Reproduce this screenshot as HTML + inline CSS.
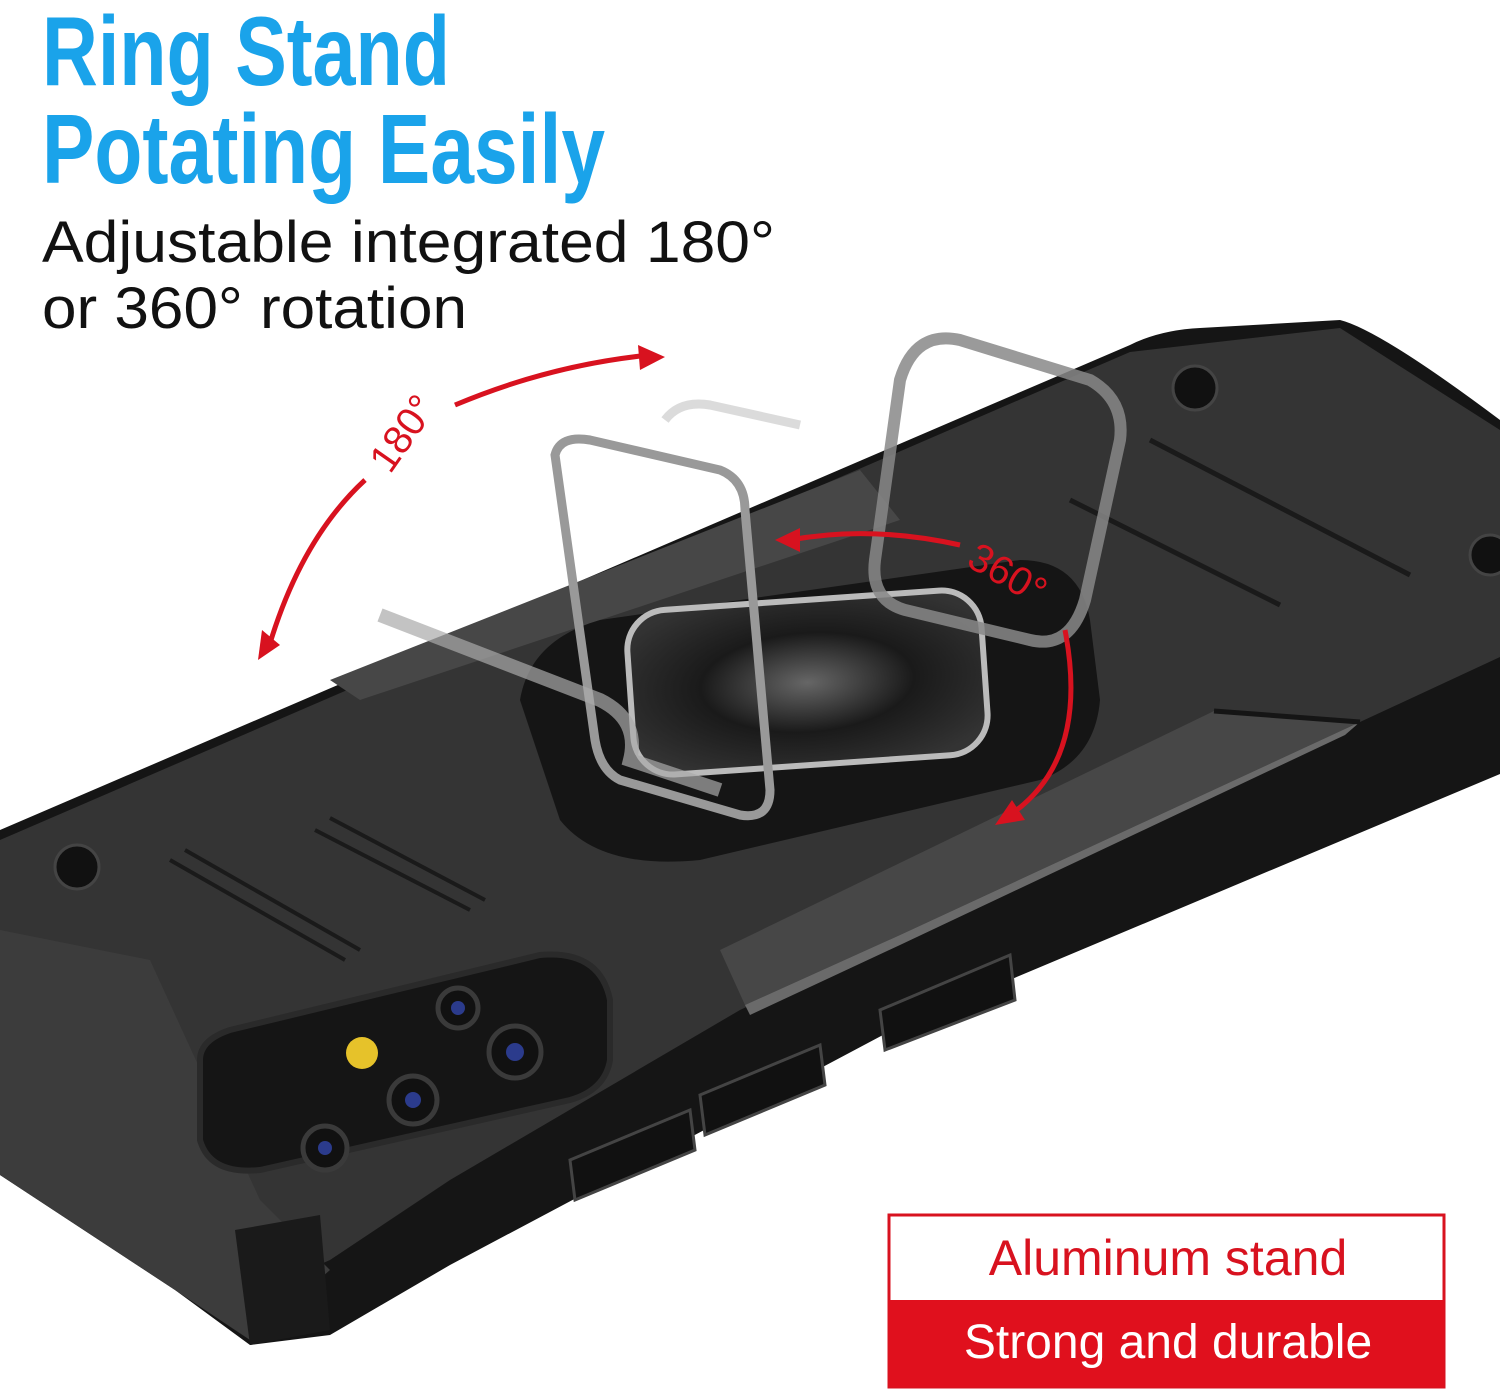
<!DOCTYPE html>
<html><head><meta charset="utf-8"><style>
html,body{margin:0;padding:0;background:#fff;}
svg{display:block}
</style></head><body>
<svg width="1500" height="1399" viewBox="0 0 1500 1399" xmlns="http://www.w3.org/2000/svg">
<defs>
<radialGradient id="disc" cx="50%" cy="50%" r="60%">
<stop offset="0" stop-color="#666"/><stop offset="0.5" stop-color="#1a1a1a"/><stop offset="1" stop-color="#333"/>
</radialGradient>
</defs>
<rect width="1500" height="1399" fill="#fff"/>
<!-- phone body (side) -->
<path d="M0 830 L1130 345 Q1160 330 1200 328 L1340 320 Q1380 330 1500 420 L1500 774 L900 1026 L450 1265 L330 1335 L250 1345 L175 1290 L0 1175 Z" fill="#151515"/>
<!-- main face -->
<path d="M0 840 L1130 352 L1340 328 L1500 430 L1500 657 L1360 722 L900 935 L740 1010 L450 1180 L330 1260 L240 1300 L0 1150 Z" fill="#343434"/>
<!-- left bumper -->
<path d="M0 930 L150 960 L260 1200 L330 1270 L250 1340 L175 1290 L0 1175 Z" fill="#3c3c3c"/>
<path d="M235 1230 L320 1215 L330 1330 L250 1345 Z" fill="#1a1a1a"/>
<!-- textured strips -->
<path d="M720 950 L1214 711 L1360 722 L900 935 L745 1005 Z" fill="#474747"/>
<path d="M745 1005 L900 935 L1360 722 L1345 735 L900 945 L750 1015 Z" fill="#6a6a6a"/>
<path d="M1214 711 L1360 722" stroke="#151515" stroke-width="5"/>
<path d="M330 680 L860 470 L900 520 L360 700 Z" fill="#474747"/>
<!-- side buttons -->
<path d="M880 1010 L1010 955 L1015 1000 L885 1050 Z" fill="#111" stroke="#444" stroke-width="3"/>
<path d="M700 1095 L820 1045 L825 1085 L705 1135 Z" fill="#111" stroke="#444" stroke-width="3"/>
<path d="M570 1160 L690 1110 L695 1150 L575 1200 Z" fill="#111" stroke="#444" stroke-width="3"/>
<!-- grooves -->
<path d="M170 860 L345 960 M185 850 L360 950 M315 830 L470 910 M330 818 L485 900" stroke="#1a1a1a" stroke-width="4"/>
<path d="M1070 500 L1280 605 M1150 440 L1410 575" stroke="#1a1a1a" stroke-width="5"/>
<!-- screws -->
<circle cx="77" cy="867" r="22" fill="#111" stroke="#444" stroke-width="3"/>
<circle cx="1195" cy="388" r="22" fill="#111" stroke="#444" stroke-width="3"/>
<circle cx="1490" cy="555" r="20" fill="#111" stroke="#444" stroke-width="3"/>
<!-- camera module -->
<path d="M200 1060 Q200 1040 230 1030 L540 955 Q600 950 610 1000 L610 1060 Q605 1090 570 1100 L260 1170 Q210 1175 200 1140 Z" fill="#151515" stroke="#2a2a2a" stroke-width="6"/>
<circle cx="362" cy="1053" r="16" fill="#e6c22a"/>
<circle cx="458" cy="1008" r="20" fill="#111" stroke="#3a3a3a" stroke-width="5"/><circle cx="458" cy="1008" r="7" fill="#2b3b8c"/>
<circle cx="515" cy="1052" r="26" fill="#111" stroke="#3a3a3a" stroke-width="5"/><circle cx="515" cy="1052" r="9" fill="#2b3b8c"/>
<circle cx="413" cy="1100" r="24" fill="#111" stroke="#3a3a3a" stroke-width="5"/><circle cx="413" cy="1100" r="8" fill="#2b3b8c"/>
<circle cx="325" cy="1148" r="22" fill="#111" stroke="#3a3a3a" stroke-width="5"/><circle cx="325" cy="1148" r="7" fill="#2b3b8c"/>
<!-- ring base -->
<path d="M520 700 Q530 640 600 620 L1020 560 Q1080 560 1090 620 L1100 700 Q1095 760 1040 780 L700 860 Q600 870 560 820 Z" fill="#151515"/>
<rect x="630" y="600" width="355" height="165" rx="40" fill="url(#disc)" stroke="#bbb" stroke-width="6" transform="rotate(-4 808 683)"/>
<!-- rings -->
<path d="M555 455 Q560 435 590 440 L720 470 Q745 480 745 510 L770 790 Q770 820 740 815 L620 780 Q600 770 595 740 Z" fill="none" stroke="#999" stroke-width="9"/>
<path d="M665 420 Q680 400 710 405 L800 425" fill="none" stroke="#ccc" stroke-width="9" opacity="0.7"/>
<path d="M900 380 Q915 330 960 340 L1090 380 Q1125 400 1120 440 L1085 600 Q1070 650 1030 640 L905 610 Q870 600 875 560 Z" fill="none" stroke="#888" stroke-width="12" opacity="0.85"/>
<path d="M380 615 L600 700 Q640 720 630 760 L720 790" fill="none" stroke="#aaa" stroke-width="14" opacity="0.7"/>
<!-- red arrows -->
<path d="M268 650 Q300 540 365 480" fill="none" stroke="#d8121f" stroke-width="5"/>
<path d="M455 405 Q550 365 650 355" fill="none" stroke="#d8121f" stroke-width="5"/>
<path d="M258 660 L262 630 L280 645 Z" fill="#d8121f"/>
<path d="M665 357 L638 345 L640 370 Z" fill="#d8121f"/>
<text x="0" y="0" font-family="Liberation Sans, sans-serif" font-size="40" fill="#d8121f" transform="translate(390 475) rotate(-55)">180°</text>
<path d="M790 540 Q870 525 960 545" fill="none" stroke="#d8121f" stroke-width="5"/>
<path d="M775 540 L800 528 L800 552 Z" fill="#d8121f"/>
<path d="M1065 630 Q1090 760 1010 815" fill="none" stroke="#d8121f" stroke-width="5"/>
<path d="M995 825 L1012 800 L1025 820 Z" fill="#d8121f"/>
<text x="0" y="0" font-family="Liberation Sans, sans-serif" font-size="40" fill="#d8121f" transform="translate(965 565) rotate(30)">360°</text>
<!-- titles -->
<text x="42" y="85" font-family="Liberation Sans Narrow, Liberation Sans, sans-serif" font-weight="bold" font-size="98" fill="#1aa3ea" textLength="408" lengthAdjust="spacingAndGlyphs">Ring Stand</text>
<text x="42" y="183" font-family="Liberation Sans Narrow, Liberation Sans, sans-serif" font-weight="bold" font-size="98" fill="#1aa3ea" textLength="563" lengthAdjust="spacingAndGlyphs">Potating Easily</text>
<text x="42" y="262" font-family="Liberation Sans, sans-serif" font-size="58" fill="#111" textLength="733" lengthAdjust="spacingAndGlyphs">Adjustable integrated 180°</text>
<text x="42" y="328" font-family="Liberation Sans, sans-serif" font-size="58" fill="#111" textLength="425" lengthAdjust="spacingAndGlyphs">or 360° rotation</text>
<!-- red box -->
<rect x="889" y="1215" width="555" height="172" fill="#fff" stroke="#d8121f" stroke-width="3"/>
<rect x="889" y="1300" width="555" height="87" fill="#e0101d"/>
<text x="1168" y="1275" text-anchor="middle" font-family="Liberation Sans, sans-serif" font-size="50" fill="#d8121f">Aluminum stand</text>
<text x="1168" y="1358" text-anchor="middle" font-family="Liberation Sans, sans-serif" font-size="48" fill="#fff">Strong and durable</text>
</svg>
</body></html>
